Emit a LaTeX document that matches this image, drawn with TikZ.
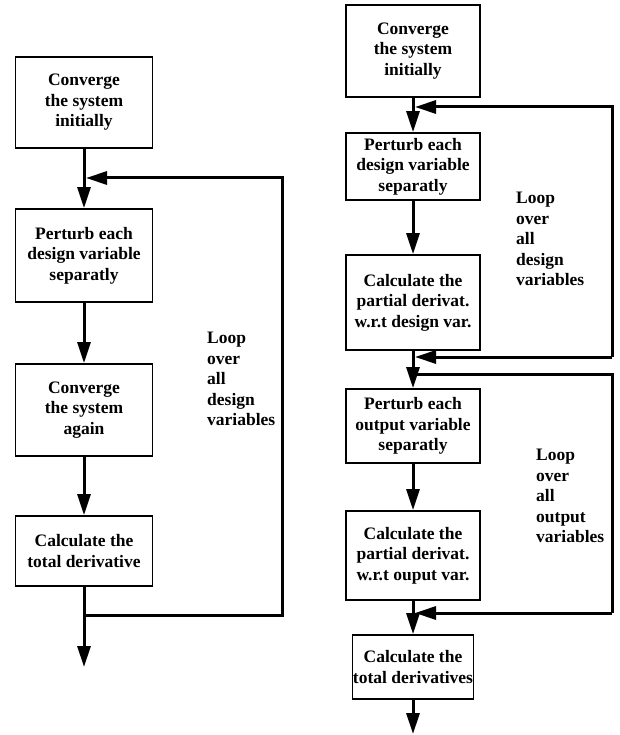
\documentclass[tikz,border=0pt]{standalone}
\usepackage{fontspec}
\setmainfont{Liberation Serif}
\usetikzlibrary{arrows.meta}
\begin{document}
\begin{tikzpicture}[x=1pt,y=-1pt,
  stepbox/.style={draw,line width=1.8pt,align=center,inner sep=0pt,
    font=\bfseries\fontsize{17.5}{20.5}\selectfont},
  flow/.style={line width=3pt,-{Triangle[length=21pt,width=13pt]}},
  loopline/.style={line width=3pt},
  looplabel/.style={anchor=north west,align=left,inner sep=0pt,
    font=\bfseries\fontsize{17.5}{20.5}\selectfont}]
\useasboundingbox (0,0) rectangle (620,735);

% ---- left chart: total derivative by perturbation ----
\node[stepbox,minimum width=137pt,minimum height=91pt] (L1) at (84,102.5)
  {Converge\\the system\\initially};
\node[stepbox,minimum width=137pt,minimum height=93pt] (L2) at (84,255.5)
  {Perturb each\\design variable\\separatly};
\node[stepbox,minimum width=137pt,minimum height=92pt] (L3) at (84,410)
  {Converge\\the system\\again};
\node[stepbox,minimum width=137pt,minimum height=70pt] (L4) at (84,551)
  {Calculate the\\total derivative};

\coordinate (Lin)  at (86,178);
\coordinate (Ltr)  at (282,178);
\coordinate (Lbr)  at (282,615);
\coordinate (Lbot) at (84,615);
\coordinate (Lend) at (84,667);

\draw[flow] (L1.south) -- (L2.north);
\draw[flow] (L2.south) -- (L3.north);
\draw[flow] (L3.south) -- (L4.north);
\draw[flow] (L4.south) -- (Lend);
\draw[flow] (Lbot) -- (Lbr) -- (Ltr) -- (Lin);

\node[looplabel] (Llab) at (207,332)
  {Loop\\over\\all\\design\\variables};

% ---- right chart: partial derivatives in two loops ----
\node[stepbox,minimum width=134pt,minimum height=92pt] (R1) at (413,51)
  {Converge\\the system\\initially};
\node[stepbox,minimum width=134pt,minimum height=67pt] (R2) at (413,166.5)
  {Perturb each\\design variable\\separatly};
\node[stepbox,minimum width=134pt,minimum height=95pt] (R3) at (413,302.5)
  {Calculate the\\partial derivat.\\w.r.t design var.};
\node[stepbox,minimum width=134pt,minimum height=74pt] (R4) at (413,426)
  {Perturb each\\output variable\\separatly};
\node[stepbox,minimum width=134pt,minimum height=89pt] (R5) at (413,555.5)
  {Calculate the\\partial derivat.\\w.r.t ouput var.};
\node[stepbox,minimum width=121pt,minimum height=64pt] (R6) at (413,667)
  {Calculate the\\total derivatives};

\coordinate (Ra)   at (415,107);
\coordinate (Ratr) at (612,107);
\coordinate (Rabr) at (612,357);
\coordinate (Rab)  at (415,357);
\coordinate (Rbt)  at (413,374);
\coordinate (Rbtr) at (612,374);
\coordinate (Rbbr) at (612,613);
\coordinate (Rbb)  at (415,613);
\coordinate (Rend) at (413,734);

\draw[flow] (R1.south) -- (R2.north);
\draw[flow] (R2.south) -- (R3.north);
\draw[flow] (R3.south) -- (R4.north);
\draw[flow] (R4.south) -- (R5.north);
\draw[flow] (R5.south) -- (R6.north);
\draw[flow] (R6.south) -- (Rend);

% design-variable loop
\draw[flow] (Rabr) -- (Ratr) -- (Ra);
\draw[flow] (Rabr) -- (Rab);
% output-variable loop
\draw[loopline] (Rbt) -- (Rbtr) -- (Rbbr);
\draw[flow] (Rbbr) -- (Rbb);

\node[looplabel] (Rlab1) at (516,192)
  {Loop\\over\\all\\design\\variables};
\node[looplabel] (Rlab2) at (536,449)
  {Loop\\over\\all\\output\\variables};
\end{tikzpicture}
\end{document}
